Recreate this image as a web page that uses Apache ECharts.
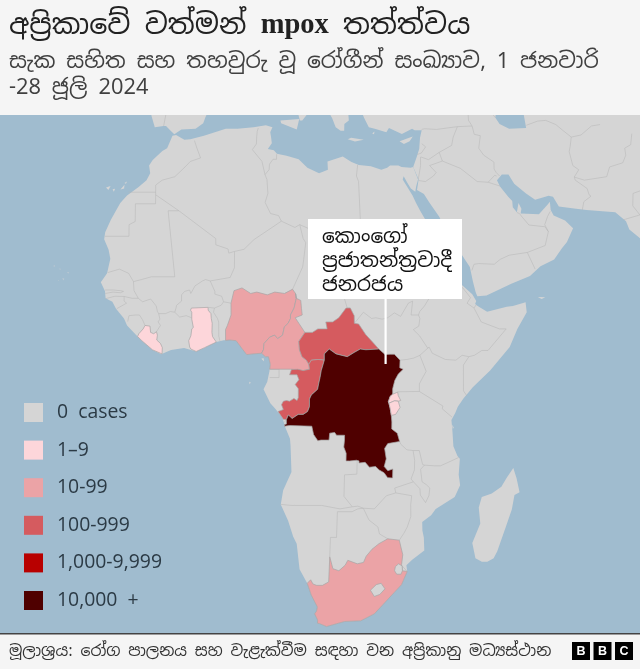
<!DOCTYPE html>
<html><head><meta charset="utf-8">
<style>html,body{margin:0;padding:0;background:#f5f5f5}#c{width:640px;height:669px}</style>
<script src="https://cdn.jsdelivr.net/npm/echarts@6/dist/echarts.min.js"></script>
</head><body><div id="c"></div>
<script>
// ---------- text ----------
const titleText = 'අප්‍රිකාවේ වත්මන් ';
const titleLatin = 'mpox';
const titleEnd = ' තත්ත්වය';
const subtitleLines = ['සැක සහිත සහ තහවුරු වූ රෝගීන් සංඛ්‍යාව, 1 ජනවාරි', '-28 ජූලි 2024'];
const calloutLines = ['කොංගෝ', 'ප්‍රජාතන්ත්‍රවාදී', 'ජනරජය'];
const sourceText = 'මූලාශ්‍රය: රෝග පාලනය සහ වැළැක්වීම සඳහා වන අප්‍රිකානු මධ්‍යස්ථාන';
const bbcLetters = ['B', 'B', 'C'];
// ---------- legend ----------
const bandLabels = ['0  cases', '1–9', '10-99', '100-999', '1,000-9,999', '10,000  +'];
const bandMins = [0, 1, 10, 100, 1000, 10000];
const bandMaxs = [0, 9, 99, 999, 9999, 1000000];
const bandColors = ['#d5d5d5', '#fdd6da', '#eba3a6', '#d55b5f', '#b80000', '#4f0000'];
// ---------- estimated cases by country ----------
const caseCountries = ['Liberia', 'Ghana', 'Rwanda', 'Burundi', 'Nigeria', 'Cameroon', 'South Africa', 'Central African Republic', 'Congo', 'DR Congo', 'Lesotho', 'Eswatini'];
const caseValues = [5, 4, 2, 8, 24, 35, 24, 213, 146, 13791, 0, 0];
// ---------- geography, lon/lat ----------
const africaCoast = [[-5.9,35.8],[-5.3,35.9],[-3.9,35.2],[-2.9,35.3],[-0.6,35.8],[3.1,36.8],[5.1,36.8],[7.8,37],[9.9,37.3],[11,37],[10.6,36.3],[10.7,35.7],[10.8,34.7],[10.1,33.9],[11.1,33.7],[11.6,33.2],[13.2,32.9],[15.2,32.4],[16.6,31.2],[18.5,30.4],[20,30.9],[20,32.1],[22.6,32.8],[24,32],[25.2,31.6],[27.2,31.4],[28.9,30.9],[29.9,31.2],[30.4,31.5],[31.8,31.5],[32.3,31.3],[33.8,31.2],[34.25,31.3],[34.9,29.5],[34.5,28.5],[34.3,27.75],[33.6,28.2],[33.1,29],[32.55,29.95],[32.35,29.5],[33.8,27.2],[34.3,26.1],[34.9,25],[35.5,24],[36.6,22.2],[37.3,19.6],[37.4,19.1],[38.3,18.3],[39.5,15.6],[42.7,13],[43.3,12],[43.1,11.6],[43.5,11.3],[45,10.45],[48.2,11.2],[49.2,11.3],[51.28,11.85],[51.4,10.4],[49.8,8],[48.5,5.4],[45.3,2],[42.5,-0.4],[41,-2],[40.1,-3.2],[39.7,-4.1],[39.1,-5.1],[39.3,-6.8],[39.5,-8.9],[40.2,-10.3],[40.6,-10.7],[40.5,-13],[40.8,-14.5],[40,-16.2],[37,-17.9],[36.3,-18.8],[34.9,-19.8],[35,-21],[35.3,-22],[35.5,-23.9],[33.6,-25.2],[32.7,-26],[32.9,-26.9],[32.1,-28.8],[31,-29.9],[27.9,-33],[25.7,-34],[23,-34.1],[20,-34.83],[18.8,-34.4],[18.45,-34.35],[18.45,-33.9],[17.9,-33],[18.2,-32.6],[18.3,-32],[17.2,-30.3],[16.45,-28.6],[15.1,-26.6],[14.5,-22.9],[13.9,-21.9],[13,-19.6],[11.75,-17.25],[12.1,-15.2],[13.4,-12.6],[13.2,-8.8],[13.1,-7.8],[12.3,-6.1],[12.1,-5.5],[11.85,-4.8],[10.7,-3.5],[9.9,-2.7],[8.8,-0.7],[9.4,0.4],[9.75,1.9],[9.9,2.9],[9.6,4],[9.1,4],[8.5,4.5],[7.1,4.4],[6.1,4.3],[5.4,5.1],[4.4,6.3],[3.4,6.4],[2.4,6.35],[1.2,6.1],[0,5.6],[-0.7,5.3],[-2.05,4.75],[-4,5.25],[-6.1,4.95],[-7.7,4.35],[-9.1,5],[-10.8,6.3],[-11.5,6.9],[-13.2,8.5],[-13.7,9.5],[-15,10.9],[-15.6,11.9],[-16.7,12.4],[-16.8,13.4],[-17.5,14.7],[-16.5,16],[-16,18.1],[-16.3,19.4],[-17.05,20.9],[-16.9,21.9],[-16,23.7],[-14.5,26.1],[-13.4,27.2],[-11.5,28.4],[-10.2,29.4],[-9.6,30.4],[-9.8,31.5],[-9.2,32.3],[-7.6,33.6],[-6.8,34],[-5.9,35.8]];
const asiaCoast = [[34.25,31.3],[35,32.8],[35.5,33.9],[35.8,35.5],[36.2,36.6],[35,36.6],[34.6,36.8],[32.8,36.05],[30.7,36.9],[30.2,36.3],[28.3,36.8],[27.3,37],[26.6,38.4],[26.2,39.5],[26,44],[48.9,44],[49.5,40],[48.9,38.4],[49.5,37.5],[51,36.8],[53.9,36.9],[53.8,39],[53,44],[82,44],[82,15],[73,15],[72.8,19],[72.7,21.1],[72.5,22.2],[70.9,20.8],[69,22.3],[68.6,23.5],[67,24.8],[62.3,25.1],[60.6,25.3],[57.8,25.6],[57,27],[56.3,27.15],[54,26.6],[52.6,27.5],[50.8,28.9],[50,30.2],[48.9,30.2],[48,29.4],[48.4,28.5],[49.6,27],[50.2,26.4],[50.2,25.5],[50.8,24.8],[51.2,26.1],[51.6,25.3],[51.4,24.6],[54.4,24.5],[55.3,25.3],[56,25.9],[56.4,26.3],[56.4,25.1],[56.8,24.3],[58.6,23.6],[59.8,22.5],[58.6,20.5],[57.7,19.6],[56.3,18],[54,17],[52.2,15.6],[49.1,14.5],[45,12.8],[43.5,12.7],[43.25,13.3],[42.9,14.8],[42.5,16.9],[41,19.1],[39.15,21.5],[38,24.1],[36.5,26.2],[35.7,27.4],[34.6,28],[35,29.5],[34.9,29.5],[34.25,31.3]];
const iberia = [[-5.6,36],[-6.3,36.6],[-7,37.2],[-7.4,37.2],[-8.9,37],[-9.5,38.7],[-9,40],[-9,44],[3,43],[0,40],[0,39],[-0.3,38.5],[-0.7,37.6],[-2,36.8],[-4.4,36.7],[-5.6,36]];
const sicily = [[12.4,38],[15.6,38.2],[15.1,36.7],[12.5,37.6],[12.4,38]];
const calabria = [[15.7,38],[16.1,38],[17.1,39],[18,41],[15,41],[15.7,38]];
const sardinia = [[8.4,39],[9.6,39.1],[9.7,41],[8.3,41],[8.4,39]];
const greece = [[21.7,37],[22.5,36.5],[23.1,36.5],[23.2,37.5],[24,38],[24,41],[20,41],[20.5,39.5],[21.2,38.3],[21.7,37]];
const crete = [[23.6,35.3],[24.2,35.5],[26.3,35.2],[24.8,34.95],[23.6,35.3]];
const rhodes = [[27.8,36.1],[28.2,36.4],[28.1,36],[27.8,36.1]];
const cyprus = [[32.3,35],[33,34.6],[34,35],[34.6,35.7],[33.5,35.35],[32.8,35.15],[32.3,35]];
const madagascar = [[49.3,-12],[49.9,-13.5],[50.5,-15.5],[49.7,-15.9],[49.4,-18],[48.6,-20.5],[47.5,-24],[47,-25],[46,-25.5],[45.1,-25.5],[44,-25],[43.3,-22.8],[44.4,-20],[44,-17.7],[44.4,-16.2],[46,-15.7],[47.5,-14.7],[48.3,-13.4],[49.3,-12]];
const socotra = [[53.3,12.6],[54.5,12.55],[53.9,12.3],[53.3,12.6]];
const bioko = [[8.45,3.7],[8.8,3.8],[8.9,3.3],[8.45,3.7]];
const saoTome = [[6.5,0.4],[6.75,0.3],[6.55,0.05],[6.5,0.4]];
const zanzibar = [[39.2,-5.75],[39.5,-6.2],[39.35,-6.4],[39.2,-5.75]];
const tenerife = [[-16.9,28.35],[-16.15,28.55],[-16.5,28],[-16.9,28.35]];
const granCanaria = [[-15.8,28.1],[-15.4,28.15],[-15.6,27.75],[-15.8,28.1]];
const fuerteventura = [[-14.5,28.05],[-13.85,28.75],[-13.9,28.2],[-14.5,28.05]];
const lanzarote = [[-13.85,29],[-13.45,29.2],[-13.6,28.9],[-13.85,29]];
const santoAntao = [[-25.3,17.05],[-25,17.2],[-25.05,16.9],[-25.3,17.05]];
const saoNicolau = [[-24.4,16.65],[-24,16.65],[-24.1,16.5],[-24.4,16.65]];
const salBoaVista = [[-23,16.2],[-22.7,16.2],[-22.8,15.95],[-23,16.2]];
const santiago = [[-23.8,15.25],[-23.45,15.3],[-23.5,14.95],[-23.8,15.25]];
const fogo = [[-24.5,15],[-24.3,15],[-24.4,14.85],[-24.5,15]];

const liberia = [[-11.5,6.9],[-11.3,7.3],[-10.6,8],[-10.3,8.5],[-9.5,8.4],[-9.4,7.5],[-8.9,7.3],[-8.45,7.6],[-8.3,7.1],[-8.4,6.4],[-7.8,5.9],[-7.5,5.3],[-7.55,4.4],[-7.7,4.35],[-9.1,5],[-10.8,6.3],[-11.5,6.9]];
const ghana = [[-2.8,11],[-0.1,11.1],[-0.1,10.7],[0.35,10.2],[0.4,9.5],[0.55,8.8],[0.5,7.5],[0.6,6.9],[1.2,6.1],[0,5.6],[-0.7,5.3],[-2.05,4.75],[-2.9,5.1],[-3.1,5.4],[-3.25,6.3],[-2.9,7],[-2.75,8],[-2.5,8.2],[-2.75,9.4],[-2.75,10.4],[-2.95,10.7],[-2.8,11]];
const nigeria = [[2.7,6.35],[2.7,7.9],[3,8.5],[3.6,10],[3.6,11.7],[4.1,13.5],[5.4,13.9],[6.8,13.1],[7.8,13.3],[9.5,12.9],[10.7,13.3],[12.3,13.1],[13.6,13.7],[14.07,13.08],[14.18,12.4],[13.8,11],[13.2,10],[13.2,9.5],[12.8,8.8],[12.2,8.3],[11.9,7.1],[11.1,6.6],[10.6,7.1],[9.8,6.8],[8.9,5.9],[8.8,5],[8.5,4.5],[7.1,4.4],[6.1,4.3],[5.4,5.1],[4.4,6.3],[3.4,6.4],[2.7,6.35]];
const cameroon = [[8.5,4.5],[9.1,4],[9.6,4],[9.9,2.9],[9.8,2.2],[11.3,2.2],[13.3,2.2],[15.2,2],[16.2,2.2],[16.1,2.9],[15.7,3.5],[15,4],[14.6,5],[14.5,6.2],[15.5,7.5],[14.4,9],[13.96,9.6],[15.1,10],[15,10.9],[14.9,12.1],[14.18,12.4],[14.07,13.08],[14.18,12.4],[13.8,11],[13.2,10],[13.2,9.5],[12.8,8.8],[12.2,8.3],[11.9,7.1],[11.1,6.6],[10.6,7.1],[9.8,6.8],[8.9,5.9],[8.8,5],[8.5,4.5]];
const car = [[14.5,6.2],[14.6,5],[15,4],[15.7,3.5],[16.1,2.9],[16.5,3.5],[17.6,3.6],[18.6,3.5],[18.6,4.4],[19.4,5.1],[20.5,4.4],[22.3,4],[23.4,4.6],[24.4,5.1],[25.3,5],[27.4,5.1],[26.4,6.1],[25.3,7.2],[24.2,8.7],[23.5,8.8],[23.5,9.9],[22.9,11],[22.2,11],[21,9.6],[20,9],[18.9,9],[19.1,8],[17.6,8],[16.7,7.5],[15.5,7.5],[14.5,6.2]];
const congoRep = [[11.15,-3.9],[11.85,-4.8],[12,-5],[12.5,-5.05],[12.8,-4.4],[13.1,-4.6],[13.4,-4.9],[14.4,-4.3],[15.2,-4.3],[15.9,-3.9],[16.2,-3.2],[16.2,-2.1],[16.5,-1.5],[17.5,-0.7],[17.7,0.2],[17.9,1],[18.1,2],[18.6,3.5],[17.6,3.6],[16.5,3.5],[16.1,2.9],[16.2,2.2],[15.2,2],[14.3,2.2],[13.3,2.16],[13,1.4],[14.2,1.4],[14.5,0.7],[13.9,0],[14.4,-0.6],[14.4,-1.9],[14.2,-2.3],[13.7,-2],[13,-2.4],[12.5,-2.3],[12,-2.4],[11.7,-2.9],[12,-3.6],[11.15,-3.9]];
const drc = [[12.2,-6],[12.2,-5.75],[12.5,-5.7],[12.5,-5.05],[12.8,-4.4],[13.1,-4.6],[13.4,-4.9],[14.4,-4.3],[15.2,-4.3],[15.9,-3.9],[16.2,-3.2],[16.2,-2.1],[16.5,-1.5],[17.5,-0.7],[17.7,0.2],[17.9,1],[18.1,2],[18.6,3.5],[18.6,4.4],[19.4,5.1],[20.5,4.4],[22.3,4],[23.4,4.6],[24.4,5.1],[25.3,5],[27.4,5.1],[28.4,4.3],[29.2,4.35],[29.9,4.35],[30.8,3.5],[30.75,2.4],[31.3,2.2],[30.5,1.5],[29.95,0.6],[29.6,-0.6],[29.6,-1.4],[29.2,-1.7],[28.9,-2.5],[29,-2.7],[29.2,-3.4],[29.4,-4.45],[29.5,-5.4],[29.5,-6.4],[30.4,-7],[30.8,-8.2],[28.9,-8.5],[28.4,-9.2],[28.7,-10.7],[28.4,-11.8],[29,-12.4],[29.8,-12.15],[29.8,-13.45],[29,-13.4],[28.4,-12.7],[27.6,-12.3],[27,-11.8],[26,-11.9],[25.3,-11.2],[24.3,-11.3],[24.3,-11],[23.9,-10.9],[22.8,-11],[22.2,-11],[22.2,-9.9],[21.8,-9],[21.9,-8],[21.9,-7.3],[20.6,-7.3],[20.3,-6.9],[19.5,-7],[19.4,-8],[18.1,-8],[17.6,-8.1],[16.9,-7.2],[16.6,-6],[13,-5.9],[12.2,-6]];
const rwanda = [[29.6,-1.4],[30.4,-1.1],[30.5,-1.6],[30.9,-2.3],[30.5,-2.4],[29.9,-2.35],[29,-2.7],[28.9,-2.5],[29.2,-1.7],[29.6,-1.4]];
const burundi = [[29,-2.7],[29.9,-2.35],[30.5,-2.4],[30.8,-3.3],[30.1,-4.3],[29.4,-4.45],[29.2,-3.4],[29,-2.7]];
const southAfrica = [[16.45,-28.6],[17,-28.1],[17.4,-28.7],[18,-28.9],[19,-28.9],[20,-28.4],[20,-24.8],[20.6,-26.5],[21.6,-26.8],[22.6,-26],[23,-25.3],[24.6,-25.8],[25.6,-25.6],[26,-24.7],[26.9,-23.7],[28,-22.9],[29.4,-22.2],[31.3,-22.4],[32,-24.5],[31.9,-25.9],[32.1,-26.8],[32.9,-26.9],[32.1,-28.8],[31,-29.9],[27.9,-33],[25.7,-34],[23,-34.1],[20,-34.83],[18.8,-34.4],[18.45,-34.35],[18.45,-33.9],[17.9,-33],[18.2,-32.6],[18.3,-32],[17.2,-30.3],[16.45,-28.6]];
const lesotho = [[27,-29.6],[27.9,-28.8],[28.7,-28.6],[29.4,-29.4],[28.6,-30.2],[27.7,-30.5],[27,-29.6]];
const eswatini = [[30.8,-26.8],[30.9,-26.2],[31.4,-25.8],[32,-26.1],[32.1,-26.8],[31.9,-27.3],[31.2,-27.3],[30.8,-26.8]];

// borders between countries that have no case band of their own
const northAfricaBorders = [
 [[-2.2,35.1],[-1.8,34],[-1.2,32.6],[-2.9,32.1],[-3.8,31.3],[-5.5,29.9],[-7.6,29.4],[-8.67,28.7],[-8.67,27.3],[-4.83,25]],
 [[-8.67,27.67],[-13.17,27.67]],
 [[-8.67,27.3],[-8.67,26],[-12,26],[-12,23.45],[-13,23],[-13,21.33],[-16.95,21.33]],
 [[-4.83,25],[-6.6,25],[-5.5,15.5],[-9.3,15.5],[-10.9,15.1],[-12.2,14.8],[-13,16],[-14.5,16.6],[-16.4,16.1]],
 [[-4.83,25],[1.2,21],[1.2,20.1],[3.2,19.5],[3.3,18.9],[4.25,19.15],[5.8,19.45],[7.45,20.85],[12,23.5],[11.57,24.3],[10.25,24.6],[9.4,26.2],[9.9,27.5],[9.8,29.5],[9.5,30.2],[10.2,30.9],[10.3,31.7],[10.9,32.4],[11.5,32.4],[11.55,33.15]],
 [[9.5,30.2],[9.05,32.1],[7.5,33.8],[8.2,34.6],[8.3,35.7],[8.4,36.4],[8.6,36.9]],
 [[12,23.5],[14.2,22.6],[15,23],[24,19.5],[24,20],[25,20],[25,29.2],[24.7,30],[25,31.6]],
 [[25,22],[36.9,22]],
 [[15,23],[15.5,21],[15.9,20.4],[15.5,18],[15.3,16.9],[13.6,13.7]],
 [[24,19.5],[24,15.7],[22.9,15.5],[22.4,14],[22.3,13.3],[21.9,12.6],[22.4,11],[22.9,11]]
];
const westAfricaBorders = [
 [[-12.2,14.8],[-12.1,13.5],[-11.4,12.4],[-12.4,12.4],[-13.7,12.67],[-15.2,12.7],[-16.7,12.35]],
 [[-16.8,13.6],[-15.5,13.6],[-14.3,13.5],[-13.8,13.4],[-14.3,13.2],[-15.5,13.3],[-16.75,13.1]],
 [[-13.7,12.67],[-13.7,12],[-13.3,11.7],[-14.9,10.9]],
 [[-13.1,9.05],[-12.9,9.9],[-11.9,10],[-11.2,10],[-10.7,9.3],[-10.3,8.5]],
 [[-11.4,12.4],[-10.7,11.9],[-9.4,12.3],[-8.5,11.3],[-8.3,10.5],[-8.1,10.2],[-7.9,9.4],[-8.2,9],[-7.8,8.5],[-8.45,7.6]],
 [[-8.1,10.2],[-7,10.2],[-6.2,10.5],[-5.5,10.4],[-4.7,9.7],[-3.65,9.9],[-2.75,9.6]],
 [[-5.5,10.4],[-5.3,11],[-5.2,11.4],[-4.4,12],[-4.4,12.9],[-3.9,13.4],[-3.1,13.6],[-2.9,13.1],[-2.2,14.2],[-1,14.9],[-0.5,15.1],[0.25,14.9],[3.5,15.4],[4.2,16.8],[4.25,19.15]],
 [[-0.1,11.1],[0.92,11],[2,11.4],[2.4,11.9],[3.6,11.7]],
 [[0.92,11],[0.77,10.4],[1.4,9.5],[1.6,9],[1.6,6.95],[1.8,6.25]],
 [[2.4,11.9],[2.1,12.7],[1,13],[1,13.4],[0.25,14.9]],
 [[9.8,2.2],[11.3,2.2],[11.3,1],[9.8,1]],
 [[12.3,13.1],[13.6,13.7]]
];
const eastAfricaBorders = [
 [[23.5,8.8],[25,10.4],[26.3,9.5],[27,9.6],[28,9.4],[28.9,9.6],[30,10.3],[31,9.8],[32.3,11.7],[33,12],[32.7,10],[33.9,10],[34.1,10.5],[34.9,11.3],[35.9,12.7],[36.5,14.3],[36.9,16.5],[38.6,18]],
 [[36.5,14.3],[37.9,14.9],[39.1,14.7],[40.1,14.6],[41.2,13.9],[42.4,12.5],[41.8,11.7],[42.9,11],[43.25,11.45]],
 [[42.9,11],[44,9],[46.9,8],[48,8],[45,4.9],[44,4.9],[42.8,4.2],[41.9,4],[41,2.8],[41,-0.9],[41.55,-1.65]],
 [[41.9,4],[40.8,4.2],[39.8,3.5],[38.1,3.6],[36,4.5],[35.5,5.4],[34,4.2],[33,3.8],[31.9,3.6],[30.8,3.5]],
 [[35.3,5.2],[34,7],[33,7.9],[33.9,8.4],[34.1,9.5],[33.9,10]],
 [[34,4.2],[35,1.9],[34.5,1.1],[33.9,0.1],[33.9,-1],[37.7,-3.1],[37.6,-3.5],[39.2,-4.7]],
 [[30.4,-1.05],[33.9,-1]]
];
const southernAfricaBorders = [
 [[30.8,-8.2],[31,-8.6],[32,-9.4],[33,-9.5],[33.3,-10.9],[33.3,-12.3],[32.8,-13.6],[33.2,-14],[30.2,-14.9],[30.4,-15.6],[28.9,-16],[27,-17.9],[25.2,-17.8]],
 [[33,-9.5],[34,-9.5],[34.6,-11.5],[34.9,-11.6],[36.5,-11.7],[37.5,-11.7],[38.5,-11.3],[40.4,-10.5]],
 [[34.9,-11.6],[34.3,-12.2],[34.6,-14],[35.3,-14.4],[35.9,-14.9],[35.8,-16],[35.3,-17],[34.4,-15.9],[34.3,-15],[33.2,-14]],
 [[30.4,-15.6],[33,-16],[32.9,-17.3],[33,-19],[32.5,-20.5],[32,-21.4],[31.3,-22.4]],
 [[25.2,-17.8],[26.2,-19.5],[27.7,-20.5],[28,-21.5],[29.4,-22.2]],
 [[24,-10.9],[24,-12.9],[22,-13],[22,-16.1],[23.4,-17.6]],
 [[11.75,-17.25],[13.5,-17.4],[14,-17.4],[18.4,-17.4],[21.4,-17.9],[23.4,-17.6],[24.3,-17.5],[25.2,-17.8],[24.3,-17.9],[23.4,-18.3],[21,-18.3],[21,-22],[20,-22],[20,-24.8]],
 [[12.1,-5.5],[12.5,-5.05]],
 [[32,-26.1],[32.9,-26.9]]
];
const middleEastBorders = [
 [[35.1,33.1],[35.8,33.3],[36.6,34.2],[36,34.65]],
 [[34.95,29.55],[35.5,31.5],[35.6,32.7],[35.8,32.7],[36.9,32.35],[38.8,33.4],[41,34.4],[41.4,35.6],[42.3,37.1],[44.8,37.2],[45,36],[46,35.8],[45.5,34],[46.2,33],[47.8,32],[47.7,31],[48,30.5],[48.5,30]],
 [[35,29.35],[36.1,29.2],[37.5,30],[38,30.5],[37,31.5],[39.2,32.15],[38.8,33.4]],
 [[36.2,36.7],[36.7,36.8],[38.7,36.7],[42.3,37.1]],
 [[39.2,32.15],[42.1,31.1],[44.7,29.2],[46.5,29.1],[48.4,28.55]],
 [[46.5,29.1],[47.7,30.1],[48,30]],
 [[44.8,37.2],[44.3,38],[44.4,39.5]],
 [[42.8,16.4],[43.2,17.3],[44,17.4],[46.5,17.3],[47.5,18],[49,18.6],[52,19],[55,20],[55.7,22],[55.2,22.7],[52.6,22.95],[51.6,24.1],[51.2,24.6],[50.8,24.75]],
 [[52,19],[53.1,16.6]],
 [[55.7,22],[55.2,23],[55.8,24.2],[56.3,24.9]],
 [[61.6,25.1],[62,26.3],[63.3,27.1],[63,27.3],[62.8,28.2],[61,29.4],[60.9,29.85],[61.8,30.9],[60.9,31.5],[60.6,33.5],[60.9,34.3],[61.3,35.6],[60,36.6],[59,37.4],[57.4,38],[56,37.9],[54,37.3]],
 [[60.9,29.85],[62.5,29.4],[66.3,29.9],[67,31.3],[69.3,31.9],[70,33],[70,34],[71.1,34.5],[71.6,36.1]],
 [[61.3,35.6],[63,35.9],[65,37.2],[66.5,37.4]],
 [[68.2,23.7],[71,24.4],[70,25.7],[70.3,27.5],[72,28],[74.5,31]],
 [[44.8,39.7],[48,39.6],[48.9,38.4]],
 [[-7.4,37.2],[-7,39]]
];
// ---------- map assembling ----------
const landShapes = {Africa: africaCoast, Asia: asiaCoast, Iberia: iberia, Sicily: sicily, Calabria: calabria, Sardinia: sardinia, Greece: greece, Crete: crete, Rhodes: rhodes, Cyprus: cyprus, Madagascar: madagascar, Socotra: socotra, Bioko: bioko, 'Sao Tome': saoTome, Zanzibar: zanzibar, Tenerife: tenerife, 'Gran Canaria': granCanaria, Fuerteventura: fuerteventura, Lanzarote: lanzarote};
const islets = {'Santo Antao': santoAntao, 'Sao Nicolau': saoNicolau, 'Sal': salBoaVista, 'Santiago': santiago, 'Fogo': fogo};
const countryShapes = {'Liberia': liberia, 'Ghana': ghana, 'Nigeria': nigeria, 'Cameroon': cameroon, 'Central African Republic': car, 'Congo': congoRep, 'DR Congo': drc, 'Rwanda': rwanda, 'Burundi': burundi, 'South Africa': southAfrica, 'Lesotho': lesotho, 'Eswatini': eswatini};
const poly = (name, ring) => ({type: 'Feature', properties: {name}, geometry: {type: 'Polygon', coordinates: [ring]}});
const features = [];
Object.keys(landShapes).forEach(n => features.push(poly(n, landShapes[n])));
Object.keys(islets).forEach(n => features.push(poly(n, islets[n])));
features.push({type: 'Feature', properties: {name: 'Borders'}, geometry: {type: 'MultiLineString', coordinates: [].concat(northAfricaBorders, westAfricaBorders, eastAfricaBorders, southernAfricaBorders, middleEastBorders)}});
Object.keys(countryShapes).forEach(n => features.push(poly(n, countryShapes[n])));
echarts.registerMap('region', {type: 'FeatureCollection', features});

const LON_K = 6.13, X_AT_LON = 179.8, LON_REF = -5, CURVE = 3.5e-5, LAT_K = 6.95, Y_AT_EQ = 384.5;
const projection = {
  project: ([lon, lat]) => [X_AT_LON + LON_K * (lon - LON_REF) * (1 - CURVE * lat * lat), Y_AT_EQ - LAT_K * lat],
  unproject: ([x, y]) => { const lat = (Y_AT_EQ - y) / LAT_K; return [LON_REF + (x - X_AT_LON) / (LON_K * (1 - CURVE * lat * lat)), lat]; }
};
const MAP_TOP = 115, MAP_BOTTOM = 635, W = 640;
// longitudes are taken at the equator, where the curved meridians reach furthest out
const boundLons = [projection.unproject([0, Y_AT_EQ])[0], projection.unproject([W, Y_AT_EQ])[0]];
const boundLats = [projection.unproject([0, MAP_TOP])[1], projection.unproject([0, MAP_BOTTOM])[1]];
const SINHALA = '"Noto Sans Sinhala","Noto Serif Sinhala","Iskoola Pota",serif';
const seriesData = caseCountries.map((name, i) => ({name, value: caseValues[i]}));
Object.keys(landShapes).forEach(name => seriesData.push({name, value: 0, itemStyle: {borderWidth: 0}}));
Object.keys(islets).forEach(name => seriesData.push({name, value: 0, itemStyle: {borderWidth: 0, opacity: 0.5}}));
seriesData.push({name: 'Borders', value: 0, itemStyle: {borderColor: '#b4b4b4', borderWidth: 0.5}});

const graphics = [
  {type: 'rect', shape: {x: 0, y: 0, width: W, height: MAP_TOP}, style: {fill: '#f5f5f5'}, z: 50},
  {type: 'rect', shape: {x: 0, y: MAP_BOTTOM - 1, width: W, height: 669 - MAP_BOTTOM + 1}, style: {fill: '#f5f5f5'}, z: 50},
  {type: 'rect', shape: {x: 0, y: MAP_BOTTOM - 2, width: W, height: 1.5}, style: {fill: '#444'}, z: 51},
  {type: 'text', x: 9, y: 26, z: 52, style: {text: '{a|' + titleText + '}{b|' + titleLatin + '}{a|' + titleEnd + '}', verticalAlign: 'middle', rich: {a: {font: '28.5px ' + SINHALA, fill: '#222'}, b: {font: 'bold 28.5px "Liberation Serif",serif', fill: '#222'}}}},
  {type: 'text', x: 9, y: 62, z: 52, style: {text: subtitleLines[0], font: '21.8px ' + SINHALA, fill: '#404040', verticalAlign: 'middle'}},
  {type: 'text', x: 9, y: 88, z: 52, style: {text: subtitleLines[1], font: '21.8px ' + SINHALA, fill: '#404040', verticalAlign: 'middle'}},
  {type: 'rect', shape: {x: 384.5, y: 298, width: 2.2, height: 66}, style: {fill: '#fff'}, z: 52},
  {type: 'rect', shape: {x: 308, y: 219, width: 154, height: 80}, style: {fill: '#fff'}, z: 52},
  {type: 'text', x: 9, y: 652, z: 52, style: {text: sourceText, font: '15.7px ' + SINHALA, fill: '#333', verticalAlign: 'middle'}}
];
calloutLines.forEach((t, i) => graphics.push({type: 'text', x: 322, y: 237 + i * 24, z: 53, style: {text: t, font: '20px ' + SINHALA, fill: '#111', verticalAlign: 'middle'}}));
bbcLetters.forEach((t, i) => {
  graphics.push({type: 'rect', shape: {x: 572 + i * 21.5, y: 642, width: 18, height: 18}, style: {fill: '#000'}, z: 52});
  graphics.push({type: 'text', x: 581 + i * 21.5, y: 651.5, z: 53, style: {text: t, font: 'bold 12.5px "Liberation Sans",sans-serif', fill: '#fff', align: 'center', verticalAlign: 'middle'}});
});

const chart = echarts.init(document.getElementById('c'), null, {renderer: 'canvas'});
chart.setOption({
  animation: false,
  backgroundColor: '#a0bccf',
  visualMap: {
    type: 'piecewise', left: 9, top: 388, orient: 'vertical', inverse: true, selectedMode: false, hoverLink: false,
    itemWidth: 19, itemHeight: 19, itemGap: 18.6, textGap: 14, align: 'left', itemSymbol: 'rect',
    textStyle: {color: '#2b3a45', fontSize: 19.4, fontFamily: '"Open Sans",sans-serif'},
    pieces: bandLabels.map((label, i) => ({min: bandMins[i], max: bandMaxs[i], label, color: bandColors[i]})),
    seriesIndex: 0
  },
  series: [{
    type: 'map', map: 'region', silent: true, roam: false,
    projection,
    boundingCoords: [[boundLons[0], boundLats[0]], [boundLons[1], boundLats[1]]],
    left: 4, top: MAP_TOP, width: W, height: MAP_BOTTOM - MAP_TOP,
    label: {show: false}, emphasis: {disabled: true},
    itemStyle: {areaColor: '#d5d5d5', borderColor: '#a6a6a6', borderWidth: 0.7},
    data: seriesData
  }],
  graphic: graphics
});
</script></body></html>
